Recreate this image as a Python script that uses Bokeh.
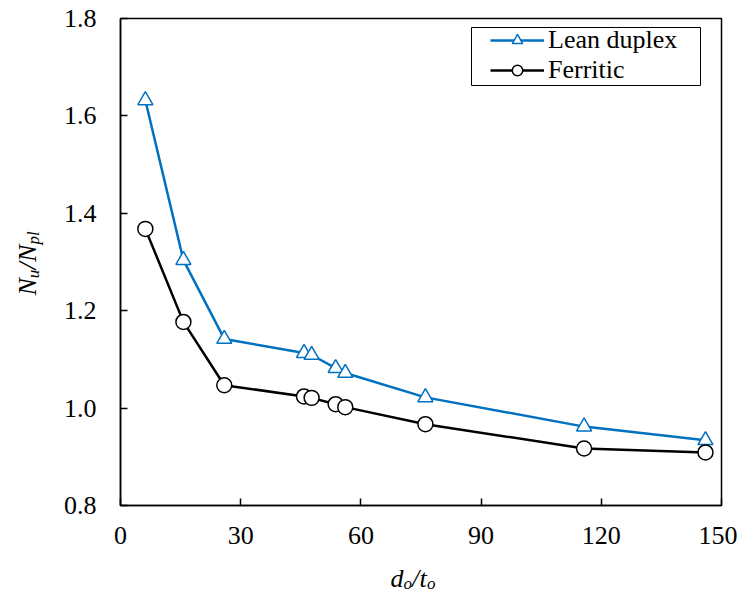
from bokeh.plotting import figure
from bokeh.models import Range1d, FixedTicker, Label, Legend, LegendItem, PrintfTickFormatter, BoxAnnotation
from bokeh.layouts import row, column
from bokeh.embed import file_html
from bokeh.resources import INLINE
import math

# data
d_over_t = [6.2, 15.7, 25.9, 45.8, 47.7, 53.7, 56.1, 76.1, 115.7, 146.0]
lean_duplex = [1.632, 1.304, 1.142, 1.113, 1.109, 1.082, 1.072, 1.022, 0.962, 0.934]
ferritic = [1.368, 1.177, 1.047, 1.024, 1.021, 1.008, 1.002, 0.967, 0.917, 0.909]
x_ticks = [0, 30, 60, 90, 120, 150]
y_ticks = [0.8, 1.0, 1.2, 1.4, 1.6, 1.8]

BLUE = "#0070C0"
FONT = "Liberation Serif"

p = figure(width=677, height=560, output_backend="svg", toolbar_location=None,
           x_range=Range1d(0, 150), y_range=Range1d(0.8, 1.8),
           min_border_left=58, min_border_right=16, min_border_top=18, min_border_bottom=55)
p.background_fill_color = "white"
p.border_fill_color = "white"
p.outline_line_color = "black"
p.outline_line_width = 1.5
p.xgrid.visible = False
p.ygrid.visible = False

for ax in (p.xaxis[0], p.yaxis[0]):
    ax.axis_line_width = 1.5
    ax.major_tick_line_width = 1.5
    ax.major_tick_in = 7
    ax.major_tick_out = 0
    ax.minor_tick_line_color = None
    ax.major_label_text_font = FONT
    ax.major_label_text_font_size = "26px"
    ax.major_label_text_color = "black"
p.xaxis[0].ticker = FixedTicker(ticks=x_ticks)
p.yaxis[0].ticker = FixedTicker(ticks=y_ticks)
p.yaxis[0].formatter = PrintfTickFormatter(format="%.1f")
p.xaxis[0].major_label_standoff = 21
p.yaxis[0].major_label_standoff = 24

l1 = p.line(d_over_t, lean_duplex, line_color=BLUE, line_width=2.5)
m1 = p.scatter(d_over_t, lean_duplex, marker="triangle", size=15, line_color=BLUE,
               fill_color="white", line_width=1.5)
l2 = p.line(d_over_t, ferritic, line_color="black", line_width=2.5)
m2 = p.scatter(d_over_t, ferritic, marker="circle", size=15, line_color="black",
               fill_color="white", line_width=1.5)

# legend frame
p.add_layout(BoxAnnotation(left=351, right=580, bottom=420, top=478,
                           left_units="screen", right_units="screen",
                           bottom_units="screen", top_units="screen",
                           fill_color="white", fill_alpha=1.0,
                           line_color="black", line_width=1, line_alpha=1.0))

legend = Legend(items=[LegendItem(label="Lean duplex", renderers=[l1, m1]),
                       LegendItem(label="Ferritic", renderers=[l2, m2])],
                location=(370, 420), orientation="vertical")
legend.label_text_font = FONT
legend.label_text_font_size = "26px"
legend.label_text_color = "black"
legend.label_text_line_height = 1.0
legend.glyph_width = 54
legend.glyph_height = 26
legend.label_height = 26
legend.label_standoff = 4
legend.spacing = -4
legend.padding = 0
legend.margin = 0
legend.border_line_color = None
legend.background_fill_alpha = 0
p.add_layout(legend, "center")


def blank(w, h):
    f = figure(width=w, height=h, output_backend="svg", toolbar_location=None,
               x_range=Range1d(0, w), y_range=Range1d(0, h),
               x_axis_type=None, y_axis_type=None,
               min_border=0, min_border_left=0, min_border_right=0,
               min_border_top=0, min_border_bottom=0)
    f.frame_align = False
    f.outline_line_color = None
    f.background_fill_color = "white"
    f.border_fill_color = "white"
    f.xgrid.visible = False
    f.ygrid.visible = False
    return f


def piece(f, text, x, y, size, angle=0.0):
    f.add_layout(Label(x=x, y=y, x_units="screen", y_units="screen", text=text,
                       text_font=FONT, text_font_style="italic", text_font_size=size,
                       text_color="black", text_align="left", text_baseline="alphabetic",
                       angle=angle))


# x axis label: d_o / t_o
xl = blank(677, 40)
bx, by = 330, 22
piece(xl, "d", bx, by, "26px")
piece(xl, "o", bx + 13, by - 5, "17px")
piece(xl, "/", bx + 21.5, by, "26px")
piece(xl, "t", bx + 29, by, "26px")
piece(xl, "o", bx + 36.5, by - 5, "17px")

# y axis label: N_u / N_pl (rotated)
yl = blank(60, 600)
a = math.pi / 2
lx, ly = 27, 305
piece(yl, "N", lx, ly, "26px", a)
piece(yl, "u", lx + 6, ly + 17.3, "17px", a)
piece(yl, "/", lx, ly + 26, "26px", a)
piece(yl, "N", lx, ly + 33.5, "26px", a)
piece(yl, "pl", lx + 6, ly + 51, "17px", a)

layout = row(yl, column(p, xl, spacing=0), spacing=0)
open("out.html", "w").write(file_html(layout, INLINE))
